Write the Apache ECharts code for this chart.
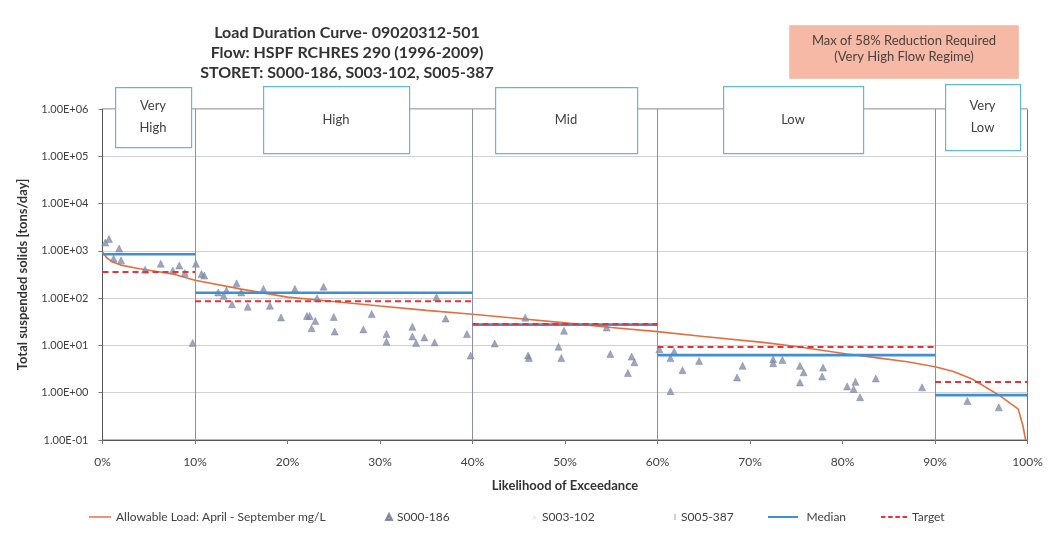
<!DOCTYPE html>
<html>
<head>
<meta charset="utf-8">
<script src="https://cdn.jsdelivr.net/npm/echarts@6/dist/echarts.min.js"></script>
<style>
  html, body { margin: 0; padding: 0; background: #ffffff; }
  #chart { width: 1052px; height: 553px; }
</style>
</head>
<body>
<div id="chart"></div>
<script>
// Flow regime boundaries (percent of time flow is exceeded)
const zoneNames = ['Very\nHigh', 'High', 'Mid', 'Low', 'Very\nLow'];
const zoneStart = [0, 10, 40, 60, 90];
const zoneEnd = [10, 40, 60, 90, 100];
const zoneBoundaries = [10, 40, 60, 90];

// Median observed load and target load per flow regime [tons/day]
const medianLoad = [845, 130, 27.5, 6.25, 0.89];
const targetLoad = [355, 86, 28.5, 9.3, 1.68];

// Allowable load duration curve: [exceedance %, tons/day]
const allowableLoad = [
  [0, 950], [0.5, 700], [1.1, 580], [2, 500], [4, 420], [7.6, 325], [10, 240],
  [15, 155], [20, 105], [25, 85], [30, 68], [35, 55], [40, 45.5], [45, 37],
  [50, 30], [55, 24], [60, 19.6], [65, 15.5], [71.4, 11.6], [75, 9.5],
  [80.5, 6.6], [84, 5.4], [87, 4.5], [90, 3.55], [92, 2.8], [94, 1.95],
  [97, 0.87], [99, 0.45], [99.5, 0.2], [99.8, 0.1]
];

// Observed loads at station S000-186: [exceedance %, tons/day]
const s000_186 = [
  [0.3, 1500], [0.7, 1780], [1.8, 1120], [1.2, 690], [2.0, 630], [4.6, 400],
  [6.3, 535], [7.6, 385], [8.3, 490], [8.9, 340], [10.1, 535], [9.75, 11.3],
  [10.7, 325], [11.0, 300], [12.5, 132], [13.1, 112], [13.4, 145], [14.0, 74],
  [14.5, 206], [15.0, 132], [15.7, 66], [17.4, 157], [18.1, 69], [19.3, 39],
  [20.8, 157], [22.1, 42], [22.4, 42], [22.6, 23], [23.0, 33], [23.2, 100],
  [23.9, 175], [25.0, 40], [25.1, 19.6], [28.2, 21.8], [29.1, 46], [30.7, 17.4],
  [30.7, 12], [33.5, 24.7], [33.5, 15.5], [33.9, 11.2], [34.8, 14.7], [35.9, 11.6],
  [36.1, 105], [37.1, 37], [39.4, 17.4], [39.8, 6.1], [42.4, 11], [45.7, 38.6],
  [46.0, 6.1], [46.1, 5.4], [49.3, 9.4], [49.6, 5.4], [49.9, 20.4], [54.5, 24],
  [54.9, 6.6], [56.8, 2.6], [57.2, 5.8], [57.5, 4.4], [60.2, 8.3], [61.4, 5.4],
  [61.8, 7.4], [61.4, 1.08], [62.7, 3.0], [64.5, 4.7], [68.6, 2.1], [69.2, 3.7],
  [72.5, 5.1], [72.5, 4.2], [73.5, 4.9], [75.4, 3.7], [75.8, 2.7], [75.4, 1.65],
  [77.9, 3.4], [77.8, 2.2], [80.5, 1.36], [81.4, 1.7], [81.2, 1.2], [81.9, 0.8],
  [83.6, 2.0], [88.6, 1.3], [93.5, 0.67], [96.9, 0.49]
];
// Stations with no samples in this period
const s003_102 = [];
const s005_387 = [];

// Axis ticks
const xTicks = [0, 10, 20, 30, 40, 50, 60, 70, 80, 90, 100];
const yMin = 0.1, yMax = 1e6;

const titleLines = [
  'Load Duration Curve- 09020312-501',
  'Flow: HSPF RCHRES 290 (1996-2009)',
  'STORET: S000-186, S003-102, S005-387'
];
const noteLines = ['Max of 58% Reduction Required', '(Very High Flow Regime)'];

const FONT = 'Lato';
const TXT = '#404040';
const CURVE = '#e2703f', MEDIAN = '#3f8fd2', TARGET = '#e5323c', OBS = '#8490ab';

function sciLabel(v) {
  const e = Math.floor(Math.log10(v) + 1e-9);
  const m = v / Math.pow(10, e);
  return m.toFixed(2) + 'E' + (e < 0 ? '-' : '+') + String(Math.abs(e)).padStart(2, '0');
}

const chart = echarts.init(document.getElementById('chart'), null, { renderer: 'canvas' });

const series = [];
series.push({
  name: 'Allowable Load: April - September mg/L',
  type: 'line',
  data: allowableLoad,
  showSymbol: false,
  symbol: 'none',
  lineStyle: { color: CURVE, width: 1.6 },
  itemStyle: { color: CURVE },
  z: 3
});
series.push({
  name: 'S000-186',
  type: 'scatter',
  data: s000_186,
  symbol: 'triangle',
  symbolSize: 7,
  itemStyle: { color: OBS, borderColor: '#6a7593', borderWidth: 0.5 },
  z: 4
});
series.push({
  name: 'S003-102', type: 'scatter', data: s003_102, symbol: 'triangle', symbolSize: 5,
  itemStyle: { color: '#e8e8e8' }
});
series.push({
  name: 'S005-387', type: 'scatter', data: s005_387, symbol: 'rect', symbolSize: [2, 6],
  itemStyle: { color: '#c4c4c4' }
});
zoneStart.forEach((s, i) => {
  series.push({
    name: 'Median', type: 'line', symbol: 'none', showSymbol: false,
    data: [[s, medianLoad[i]], [zoneEnd[i], medianLoad[i]]],
    lineStyle: { color: MEDIAN, width: 2.6 }, itemStyle: { color: MEDIAN }, z: 5,
    markLine: i === 0 ? {
      silent: true, symbol: 'none', label: { show: false },
      lineStyle: { color: '#8c8fa8', width: 1, type: 'solid' },
      data: zoneBoundaries.map(b => ({ xAxis: b }))
    } : undefined
  });
});
zoneStart.forEach((s, i) => {
  series.push({
    name: 'Target', type: 'line', symbol: 'none', showSymbol: false,
    data: [[s, targetLoad[i]], [zoneEnd[i], targetLoad[i]]],
    lineStyle: { color: TARGET, width: 2, type: [6, 4] }, itemStyle: { color: TARGET }, z: 6
  });
});

// Flow regime label boxes
const zoneBoxes = [
  { x: 115, y: 87, w: 76, h: 60 },
  { x: 263, y: 86, w: 146, h: 67 },
  { x: 495, y: 87, w: 142, h: 66 },
  { x: 723, y: 86, w: 140, h: 67 },
  { x: 945, y: 84, w: 75, h: 66 }
];
const graphics = [];
zoneBoxes.forEach((b, i) => {
  graphics.push({
    type: 'rect', left: b.x, top: b.y, z: 100,
    shape: { width: b.w, height: b.h },
    style: { fill: '#ffffff', stroke: '#63b7d6', lineWidth: 1.2 }
  });
  graphics.push({
    type: 'text', x: b.x + b.w / 2, y: b.y + b.h / 2, z: 101,
    style: {
      text: zoneNames[i], fill: TXT, font: '13px ' + FONT,
      align: 'center', verticalAlign: 'middle', lineHeight: 22
    }
  });
});
titleLines.forEach((t, i) => {
  graphics.push({
    type: 'text', x: 347, y: 33 + i * 20, z: 101,
    style: { text: t, fill: '#333333', font: 'bold 16px ' + FONT, align: 'center', verticalAlign: 'middle' }
  });
});
graphics.push({
  type: 'rect', left: 789, top: 25, z: 100,
  shape: { width: 229, height: 53 },
  style: { fill: '#f5b9a5', stroke: '#f0c8b8', lineWidth: 1 }
});
noteLines.forEach((t, i) => {
  graphics.push({
    type: 'text', x: 904, y: 41 + i * 16, z: 101,
    style: { text: t, fill: '#4a4040', font: '13px ' + FONT, align: 'center', verticalAlign: 'middle' }
  });
});

// Legend icons: plain line, dashed line and small markers
const solidLine = 'path://M0,0h30v2h-30z';
const dashedLine = 'path://M0,0h5v2h-5z M8,0h5v2h-5z M16,0h5v2h-5z M24,0h5v2h-5z';
function legendAt(name, left, icon, w, h, color) {
  return {
    data: [{ name: name, icon: icon, itemStyle: { color: color } }],
    left: left, top: 506, itemWidth: w, itemHeight: h,
    textStyle: { color: TXT, fontFamily: FONT, fontSize: 12 },
    selectedMode: false
  };
}

chart.setOption({
  animation: false,
  backgroundColor: '#ffffff',
  grid: {
    left: 102.5, right: 24.5, top: 109, bottom: 113,
    show: true, borderColor: '#707070', borderWidth: 1, backgroundColor: 'transparent'
  },
  xAxis: {
    type: 'value', min: xTicks[0], max: xTicks[xTicks.length - 1], interval: 10,
    name: 'Likelihood of Exceedance', nameLocation: 'middle', nameGap: 39,
    nameTextStyle: { color: '#333333', fontFamily: FONT, fontSize: 13, fontWeight: 'bold' },
    axisLine: { show: true, lineStyle: { color: '#555555', width: 1 } },
    axisTick: { show: true, length: 4, lineStyle: { color: '#777777' } },
    axisLabel: { color: TXT, fontFamily: FONT, fontSize: 12, margin: 16, formatter: '{value}%' },
    splitLine: { show: false }
  },
  yAxis: {
    type: 'log', logBase: 10, min: yMin, max: yMax,
    name: 'Total suspended solids [tons/day]', nameLocation: 'middle', nameGap: 73, nameRotate: 90,
    nameTextStyle: { color: '#333333', fontFamily: FONT, fontSize: 13, fontWeight: 'bold' },
    axisLine: { show: true, lineStyle: { color: '#555555', width: 1 } },
    axisTick: { show: true, length: 4, lineStyle: { color: '#777777' } },
    axisLabel: { color: TXT, fontFamily: FONT, fontSize: 11, margin: 14, formatter: sciLabel },
    splitLine: { show: true, lineStyle: { color: '#d2d2d2', width: 1 } }
  },
  legend: [
    legendAt('Allowable Load: April - September mg/L', 84, solidLine, 22, 2, CURVE),
    legendAt('S000-186', 380, 'triangle', 6, 6, OBS),
    legendAt('S003-102', 527, 'triangle', 5, 5, '#e8e8e8'),
    legendAt('S005-387', 669, 'path://M0,0h2v6h-2z', 2, 6, '#c4c4c4'),
    legendAt('Median', 763, solidLine, 37, 2, MEDIAN),
    legendAt('Target', 876, dashedLine, 26, 2, TARGET)
  ],
  graphic: graphics,
  series: series
});
</script>
</body>
</html>
